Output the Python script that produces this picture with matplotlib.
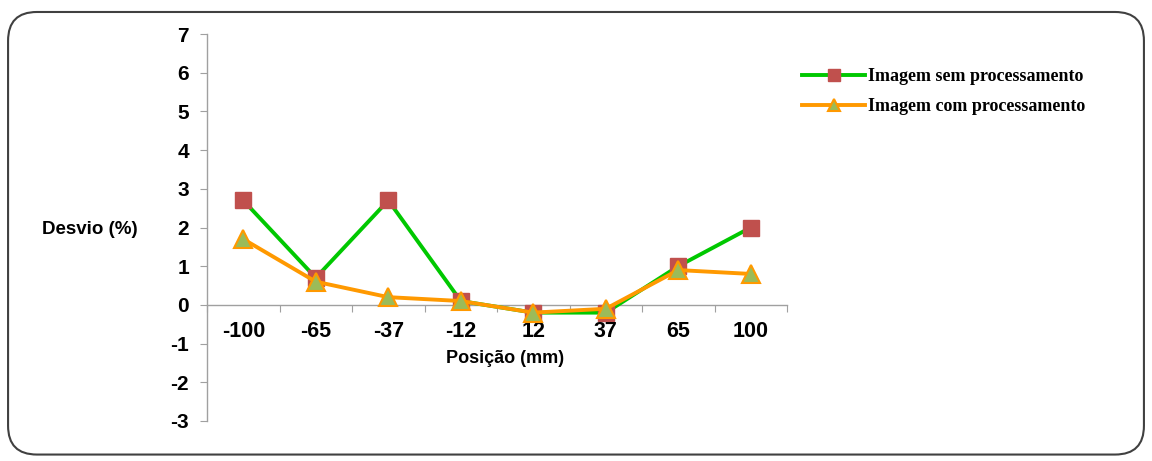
import matplotlib.pyplot as plt
from matplotlib.patches import FancyBboxPatch

posicoes = ["-100", "-65", "-37", "-12", "12", "37", "65", "100"]
sem_proc = [2.7, 0.7, 2.7, 0.1, -0.2, -0.2, 1.0, 2.0]
com_proc = [1.7, 0.6, 0.2, 0.1, -0.2, -0.1, 0.9, 0.8]
y_ticks = [-3, -2, -1, 0, 1, 2, 3, 4, 5, 6, 7]

fig = plt.figure(figsize=(11.52, 4.61), dpi=100)
ax = fig.add_axes([0.1797, 0.0868, 0.5035, 0.8394])

x = list(range(len(posicoes)))

ax.plot(x, sem_proc, color='#00C800', linewidth=2.8, marker='s', markersize=12,
        markerfacecolor='#C0504D', markeredgecolor='#C0504D',
        label='Imagem sem processamento', zorder=3)
ax.plot(x, com_proc, color='#FF9900', linewidth=2.8, marker='^', markersize=13,
        markerfacecolor='#9BBB59', markeredgecolor='#FF9900', markeredgewidth=1.5,
        label='Imagem com processamento', zorder=4)

ax.set_xlim(-0.5, len(posicoes) - 0.5)
ax.set_ylim(-3, 7)
ax.set_yticks(y_ticks)
ax.set_yticklabels([str(v) for v in y_ticks], fontsize=15, fontweight='bold',
                   family='Liberation Sans')

# x axis crosses at y = 0, ticks sit between categories
ax.spines['bottom'].set_position(('data', 0))
ax.spines['top'].set_visible(False)
ax.spines['right'].set_visible(False)
for s in ['left', 'bottom']:
    ax.spines[s].set_color('#A0A0A0')
    ax.spines[s].set_linewidth(1.0)

ax.set_xticks([i + 0.5 for i in range(-1, len(posicoes))])
ax.set_xticklabels([])
ax.tick_params(axis='x', direction='out', length=5, color='#A0A0A0')
ax.tick_params(axis='y', direction='out', length=5, color='#A0A0A0', pad=8)
for i, lab in enumerate(posicoes):
    ax.annotate(lab, xy=(i, 0), xycoords='data', xytext=(0, -19),
                textcoords='offset points', ha='center', va='center',
                fontsize=15.5, fontweight='bold', family='Liberation Sans')

fig.text(0.0365, 0.503, 'Desvio (%)', fontsize=13.5, fontweight='bold',
         family='Liberation Sans', va='center', ha='left')
fig.text(0.438, 0.222, 'Posição (mm)', fontsize=13, fontweight='bold',
         family='Liberation Sans', va='center', ha='center')

leg = fig.legend(loc='upper left', bbox_to_anchor=(0.682, 0.888), frameon=False,
                 prop={'family': 'Liberation Serif', 'weight': 'bold', 'size': 13},
                 handlelength=3.5, handletextpad=0.15, labelspacing=0.75,
                 markerscale=0.7)

frame = FancyBboxPatch((0.007, 0.014), 0.986, 0.96, boxstyle='round,pad=0,rounding_size=0.025',
                       transform=fig.transFigure, fill=False, edgecolor='#404040',
                       linewidth=1.5, mutation_aspect=2.5)
fig.patches.append(frame)

fig.savefig('out.png', dpi=100)
